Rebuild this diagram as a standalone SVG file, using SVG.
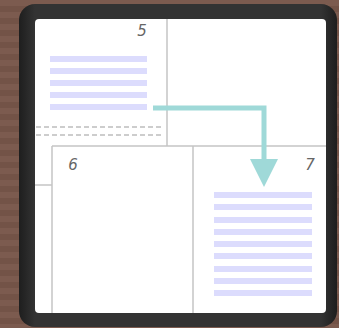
<svg xmlns="http://www.w3.org/2000/svg" width="339" height="328" viewBox="0 0 339 328">
<defs>
<pattern id="stripes" width="10" height="12" patternUnits="userSpaceOnUse">
<rect width="10" height="12" fill="#7c5b4f"/>
<rect y="6" width="10" height="6" fill="#735347"/>
</pattern>
<linearGradient id="frameG" x1="0" y1="0" x2="1" y2="0">
<stop offset="0" stop-color="#1e1e1e"/>
<stop offset="0.05" stop-color="#333"/>
<stop offset="0.95" stop-color="#333"/>
<stop offset="1" stop-color="#1e1e1e"/>
</linearGradient>
<marker id="arrow" viewBox="0 0 10 10" refX="0" refY="5" markerWidth="5.6" markerHeight="5.6" markerUnits="strokeWidth" orient="auto">
<path d="M0,0 L10,5 L0,10 z" fill="#9fd9d8"/>
</marker>
<style>
.cell{fill:none;stroke:#c4c4c4;stroke-width:1.5}
.dash{fill:none;stroke:#bdbdbd;stroke-width:1.5;stroke-dasharray:5,3}
.line{fill:#dcdcfd}
.lbl{font-family:"DejaVu Sans",sans-serif;font-size:15px;fill:#666;font-style:italic}
.conn{fill:none;stroke:#9fd9d8;stroke-width:5}
</style>
</defs>
<rect width="339" height="328" fill="url(#stripes)"/>
<rect x="19" y="4" width="318" height="323" rx="16" fill="url(#frameG)"/>
<rect x="35" y="19" width="291" height="294" rx="4" fill="#fff"/>
<g id="grid">
<line class="cell" x1="167" y1="19" x2="167" y2="146"/>
<line class="cell" x1="52" y1="146" x2="326" y2="146"/>
<line class="cell" x1="52" y1="146" x2="52" y2="313"/>
<line class="cell" x1="193" y1="146" x2="193" y2="313"/>
<line class="cell" x1="35" y1="185" x2="52" y2="185"/>
<line class="dash" x1="36" y1="127" x2="164" y2="127"/>
<line class="dash" x1="36" y1="135" x2="164" y2="135"/>
</g>
<g id="node5">
<text class="lbl" x="142" y="36" text-anchor="middle">5</text>
<rect class="line" x="50" y="56" width="97" height="6"/>
<rect class="line" x="50" y="68" width="97" height="6"/>
<rect class="line" x="50" y="80" width="97" height="6"/>
<rect class="line" x="50" y="92" width="97" height="6"/>
<rect class="line" x="50" y="104" width="97" height="6"/>
</g>
<g id="node6">
<text class="lbl" x="73" y="170" text-anchor="middle">6</text>
</g>
<g id="node7">
<text class="lbl" x="310" y="170" text-anchor="middle">7</text>
<rect class="line" x="214" y="192" width="98" height="6"/>
<rect class="line" x="214" y="204" width="98" height="6"/>
<rect class="line" x="214" y="217" width="98" height="6"/>
<rect class="line" x="214" y="229" width="98" height="6"/>
<rect class="line" x="214" y="241" width="98" height="6"/>
<rect class="line" x="214" y="253" width="98" height="6"/>
<rect class="line" x="214" y="266" width="98" height="6"/>
<rect class="line" x="214" y="278" width="98" height="6"/>
<rect class="line" x="214" y="290" width="98" height="6"/>
</g>
<g id="connectors">
<polyline class="conn" points="153,108 264,108 264,159"/>
<path d="M250,159 L278,159 L264,187 z" fill="#9fd9d8"/>
</g>
</svg>
